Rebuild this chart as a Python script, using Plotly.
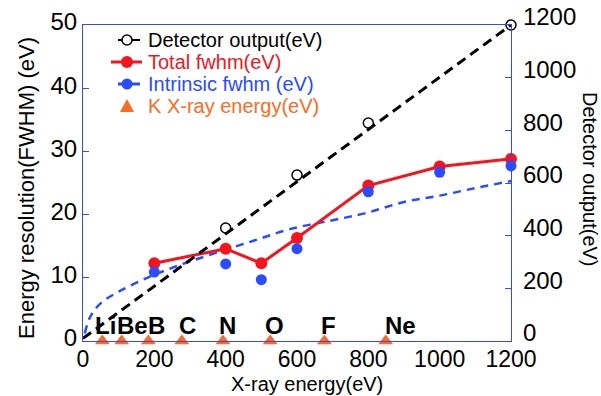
import plotly.graph_objects as go

# ---- data ----
energy_fwhm = [200, 400, 500, 600, 800, 1000, 1200]
total_fwhm = [12.3, 14.6, 12.3, 16.3, 24.6, 27.6, 28.8]
intrinsic_fwhm = [10.9, 12.2, 9.7, 14.6, 23.6, 26.7, 27.7]

det_energy = [400, 600, 800, 1200]
det_output = [429, 630, 828, 1200]

det_line_x = [0, 1200]
det_line_y = [10, 1200]

fit_x = [5, 20, 50, 100, 180, 270, 370, 480, 580, 690, 790, 900, 1000, 1100, 1200]
fit_y = [1.2, 3.8, 6.0, 7.8, 10.0, 12.0, 13.9, 15.9, 17.7, 19.0, 20.2, 22.0, 23.0, 24.2, 25.3]

elements = ["Li", "Be", "B", "C", "N", "O", "F", "Ne"]
k_energy = [54.3, 108.5, 183.3, 277, 392.4, 524.9, 676.8, 848.6]
label_x = [62, 140, 207, 292, 404, 538, 687, 889]

x_ticks = [0, 200, 400, 600, 800, 1000, 1200]
y_ticks = [0, 10, 20, 30, 40, 50]
y2_ticks = [0, 200, 400, 600, 800, 1000, 1200]

legend_names = ["Detector output(eV)", "Total fwhm(eV)", "Intrinsic fwhm (eV)", "K X-ray energy(eV)"]

FONT = "Liberation Sans, Arial, sans-serif"
BLUE_AX = "#3347ff"
RED = "#f5141e"
BLUE = "#2a4cff"
ORANGE = "#ff6a22"
legend_colors = ["black", RED, BLUE, ORANGE]

# plot-area geometry (pixels)
L, R, T, B = 83, 511, 25, 341
W, H = R - L, B - T


def px(xpix):
    return (xpix - L) / W


def py(ypix):
    return (B - ypix) / H


fig = go.Figure()

fig.add_trace(go.Scatter(x=fit_x, y=fit_y, mode="lines",
                         line=dict(color=BLUE, width=2.5, dash="8px,6px", shape="spline"),
                         showlegend=False, cliponaxis=False))
fig.add_trace(go.Scatter(x=det_line_x, y=det_line_y, mode="lines", yaxis="y2",
                         line=dict(color="black", width=3, dash="10px,6px"), showlegend=False))
fig.add_trace(go.Scatter(x=det_energy, y=det_output, mode="markers", yaxis="y2",
                         marker=dict(symbol="circle-open", size=10, color="black", line=dict(width=1.5)),
                         showlegend=False, cliponaxis=False))
fig.add_trace(go.Scatter(x=energy_fwhm, y=total_fwhm, mode="lines+markers",
                         line=dict(color=RED, width=3), marker=dict(size=12, color=RED),
                         showlegend=False, cliponaxis=False))
fig.add_trace(go.Scatter(x=energy_fwhm, y=intrinsic_fwhm, mode="markers",
                         marker=dict(size=11, color=BLUE), showlegend=False, cliponaxis=False))
fig.add_trace(go.Scatter(x=k_energy, y=[0] * len(k_energy), mode="markers",
                         marker=dict(symbol="triangle-up", size=13, color=ORANGE),
                         showlegend=False, cliponaxis=False))

annotations = []
for el, lx in zip(elements, label_x):
    annotations.append(dict(x=lx, y=2.5, xref="x", yref="y", text="<b>%s</b>" % el, showarrow=False,
                            xanchor="center", yanchor="middle",
                            font=dict(family=FONT, size=24, color="black")))

# axis titles
annotations.append(dict(x=px(590), y=py(179), xref="paper", yref="paper", text="Detector output(eV)",
                        textangle=90, showarrow=False, xanchor="center", yanchor="middle",
                        font=dict(family=FONT, size=20, color="black")))
annotations.append(dict(x=px(26), y=py(188), xref="paper", yref="paper", text="Energy resolution(FWHM) (eV)",
                        textangle=-90, showarrow=False, xanchor="center", yanchor="middle",
                        font=dict(family=FONT, size=22, color="black")))
annotations.append(dict(x=px(307), y=py(384), xref="paper", yref="paper", text="X-ray energy(eV)",
                        showarrow=False, xanchor="center", yanchor="middle",
                        font=dict(family=FONT, size=20, color="black")))

# manual legend
row_y = [40, 62, 84, 106]
sym_x = px(127)
shapes = []
for name, col, ry in zip(legend_names, legend_colors, row_y):
    annotations.append(dict(x=px(146), y=py(ry), xref="paper", yref="paper", text=name, showarrow=False,
                            xanchor="left", yanchor="middle", font=dict(family=FONT, size=20, color=col)))


def pshape(**kw):
    base = dict(xref="paper", yref="paper", xsizemode="pixel", ysizemode="pixel",
                xanchor=sym_x)
    base.update(kw)
    return base


shapes.append(pshape(type="line", yanchor=py(40), x0=-9, x1=13, y0=0, y1=0,
                     line=dict(color="black", width=2)))
shapes.append(pshape(type="circle", yanchor=py(40), x0=-5, x1=5, y0=-5, y1=5,
                     fillcolor="white", line=dict(color="black", width=1.5)))
shapes.append(pshape(type="line", yanchor=py(62), x0=-16, x1=15, y0=0, y1=0,
                     line=dict(color=RED, width=3)))
shapes.append(pshape(type="circle", yanchor=py(62), x0=-6, x1=6, y0=-6, y1=6,
                     fillcolor=RED, line=dict(color=RED, width=0)))
shapes.append(pshape(type="line", yanchor=py(84), x0=-9, x1=13, y0=0, y1=0,
                     line=dict(color=BLUE, width=3)))
shapes.append(pshape(type="circle", yanchor=py(84), x0=-5.5, x1=5.5, y0=-5.5, y1=5.5,
                     fillcolor=BLUE, line=dict(color=BLUE, width=0)))
shapes.append(pshape(type="path", yanchor=py(106), path="M-7,-6 L7,-6 L0,7 Z",
                     fillcolor=ORANGE, line=dict(color=ORANGE, width=0)))

fig.update_layout(
    width=601, height=396,
    margin=dict(l=L, r=601 - R, t=T, b=396 - B),
    plot_bgcolor="white", paper_bgcolor="white",
    font=dict(family=FONT, color="black"),
    showlegend=False,
    xaxis=dict(range=[0, 1200], tickvals=x_ticks, showgrid=False, zeroline=False, automargin=False,
               showline=True, linecolor=BLUE_AX, linewidth=1.2, mirror=True, ticks="",
               ticklabelstandoff=-3, tickfont=dict(size=23)),
    yaxis=dict(range=[0, 50], tickvals=y_ticks, showgrid=False, zeroline=False, automargin=False,
               showline=True, linecolor=BLUE_AX, linewidth=1.2, ticks="inside", ticklen=6, tickcolor=BLUE_AX,
               ticklabelshift=-3, tickfont=dict(size=24)),
    yaxis2=dict(range=[0, 1200], tickvals=y2_ticks, overlaying="y", side="right", showgrid=False,
                zeroline=False, automargin=False, ticklabelstandoff=6, ticklabelshift=-8,
                showline=True, linecolor=BLUE_AX, linewidth=1.2, ticks="inside", ticklen=6, tickcolor=BLUE_AX,
                tickfont=dict(size=24)),
    annotations=annotations,
    shapes=shapes,
)

fig.write_html("out.html")
